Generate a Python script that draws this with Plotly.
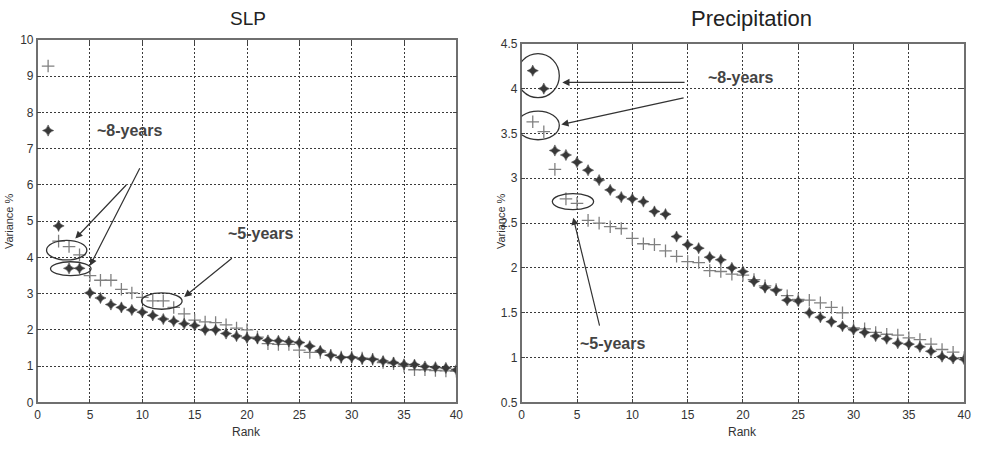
import plotly.graph_objects as go

ranks = list(range(1, 41))

slp_plus = [9.28, 4.45, 4.30, 4.07, 3.50, 3.37, 3.37, 3.12, 3.02, 2.90,
            2.80, 2.80, 2.62, 2.44, 2.27, 2.22, 2.20, 2.14, 2.05, 2.00,
            1.80, 1.62, 1.60, 1.60, 1.44, 1.38, 1.38, 1.30, 1.25, 1.25,
            1.22, 1.19, 1.10, 1.07, 1.00, 0.90, 0.90, 0.88, 0.87, 0.86]
slp_star = [7.50, 4.87, 3.70, 3.70, 3.02, 2.88, 2.70, 2.62, 2.55, 2.49,
            2.40, 2.30, 2.24, 2.17, 2.12, 2.00, 2.00, 1.90, 1.83, 1.78,
            1.76, 1.71, 1.70, 1.68, 1.65, 1.55, 1.42, 1.30, 1.24, 1.24,
            1.20, 1.19, 1.14, 1.10, 1.05, 1.04, 0.99, 0.97, 0.95, 0.90]

pr_plus = [3.63, 3.52, 3.10, 2.77, 2.72, 2.53, 2.50, 2.46, 2.44, 2.33,
           2.27, 2.26, 2.19, 2.13, 2.07, 2.06, 1.97, 1.96, 1.93, 1.92,
           1.87, 1.80, 1.76, 1.69, 1.65, 1.64, 1.61, 1.56, 1.50, 1.33,
           1.32, 1.28, 1.26, 1.25, 1.22, 1.20, 1.15, 1.09, 1.06, 1.00]
pr_star = [4.20, 4.00, 3.31, 3.26, 3.18, 3.09, 2.98, 2.87, 2.79, 2.77,
           2.74, 2.63, 2.60, 2.35, 2.26, 2.22, 2.12, 2.09, 2.00, 1.96,
           1.85, 1.78, 1.75, 1.64, 1.63, 1.50, 1.45, 1.40, 1.35, 1.31,
           1.28, 1.24, 1.21, 1.16, 1.15, 1.12, 1.07, 1.01, 0.99, 0.98]

titles = ["SLP", "Precipitation"]
x_label = "Rank"
y_label = "Variance %"
label_8 = "~8-years"
label_5 = "~5-years"

W, H = 988, 453
FONT = "Liberation Sans, Arial, sans-serif"
PLUS_C = "#808080"
STAR_C = "#383838"
LINE_C = "#333333"

fig = go.Figure()


def add_series(xax, yax, plus, star):
    fig.add_trace(go.Scatter(x=ranks, y=plus, mode="markers", xaxis=xax, yaxis=yax,
                             marker=dict(symbol="cross-thin-open", size=9, color=PLUS_C,
                                         line=dict(color=PLUS_C, width=1.3)),
                             showlegend=False, hoverinfo="skip"))
    fig.add_trace(go.Scatter(x=ranks, y=star, mode="markers", xaxis=xax, yaxis=yax,
                             marker=dict(symbol="star-diamond", size=8, color=STAR_C,
                                         line=dict(color=STAR_C, width=0.5)),
                             showlegend=False, hoverinfo="skip"))


add_series("x", "y", slp_plus, slp_star)
add_series("x2", "y2", pr_plus, pr_star)

axis_common = dict(showline=True, linecolor="#6f6f6f", linewidth=1.5, mirror="ticks",
                   ticks="inside", ticklen=4, tickcolor="#444", showgrid=True,
                   gridcolor="#3a3a3a", gridwidth=1, griddash="2px,2px", zeroline=False,
                   tickfont=dict(family=FONT, size=12, color="#333"))

fig.update_layout(
    width=W, height=H, margin=dict(l=0, r=0, t=0, b=0),
    paper_bgcolor="white", plot_bgcolor="white",
    xaxis=dict(domain=[35 / W, 458 / W], range=[0, 40], dtick=5, anchor="y", **axis_common),
    yaxis=dict(domain=[1 - 408 / H, 1 - 34 / H], range=[0, 10], dtick=1, anchor="x", **axis_common),
    xaxis2=dict(domain=[524 / W, 971 / W], range=[0, 40], dtick=5, anchor="y2", **axis_common),
    yaxis2=dict(domain=[1 - 408 / H, 1 - 38 / H], range=[0.5, 4.5], dtick=0.5, anchor="x2", **axis_common),
)

ann = []
# titles
ann.append(dict(text=titles[0], x=247 / W, y=1 - 12 / H, xref="paper", yref="paper",
                showarrow=False, font=dict(family=FONT, size=19, color="#222"),
                xanchor="center", yanchor="middle"))
ann.append(dict(text=titles[1], x=756 / W, y=1 - 12 / H, xref="paper", yref="paper",
                showarrow=False, font=dict(family=FONT, size=22, color="#222"),
                xanchor="center", yanchor="middle"))
# axis labels
for xc in (246 / W, 747 / W):
    ann.append(dict(text=x_label, x=xc, y=1 - 439 / H, xref="paper", yref="paper",
                    showarrow=False, font=dict(family=FONT, size=12, color="#333"),
                    xanchor="center", yanchor="middle"))
for xc in (6 / W, 503 / W):
    ann.append(dict(text=y_label, x=xc, y=1 - 221 / H, xref="paper", yref="paper",
                    showarrow=False, textangle=-90, font=dict(family=FONT, size=11, color="#333"),
                    xanchor="center", yanchor="middle"))

bold = dict(family=FONT, size=16, color="#444")
# SLP labels
ann.append(dict(text="<b>" + label_8 + "</b>", x=5.5, y=7.5, xref="x", yref="y",
                showarrow=False, font=bold, xanchor="left", yanchor="middle"))
ann.append(dict(text="<b>" + label_5 + "</b>", x=18.0, y=4.65, xref="x", yref="y",
                showarrow=False, font=bold, xanchor="left", yanchor="middle"))
# Precip labels
ann.append(dict(text="<b>" + label_8 + "</b>", x=16.7, y=4.12, xref="x2", yref="y2",
                showarrow=False, font=bold, xanchor="left", yanchor="middle"))
ann.append(dict(text="<b>" + label_5 + "</b>", x=5.1, y=1.16, xref="x2", yref="y2",
                showarrow=False, font=bold, xanchor="left", yanchor="middle"))

arrows = [
    ("x", "y", 9.83, 6.5, 5.0, 3.77),
    ("x", "y", 8.6, 6.04, 3.6, 4.52),
    ("x", "y", 18.7, 4.01, 14.0, 2.91),
    ("x2", "y2", 14.86, 4.07, 3.67, 4.07),
    ("x2", "y2", 14.77, 3.9, 3.58, 3.6),
    ("x2", "y2", 7.07, 1.34, 4.66, 2.56),
]
for xr, yr, tx, ty, hx, hy in arrows:
    ann.append(dict(text="", x=hx, y=hy, ax=tx, ay=ty, xref=xr, yref=yr, axref=xr, ayref=yr,
                    showarrow=True, arrowhead=2, arrowsize=1.2, arrowwidth=1.2,
                    arrowcolor=LINE_C))

fig.update_layout(annotations=ann)

ellipses = [
    ("x", "y", 0.85, 3.93, 4.7, 4.47),
    ("x", "y", 1.23, 3.5, 5.1, 3.88),
    ("x", "y", 9.92, 2.57, 13.8, 3.02),
    ("x2", "y2", -0.45, 3.9, 3.4, 4.39),
    ("x2", "y2", -0.45, 3.43, 3.4, 3.75),
    ("x2", "y2", 2.77, 2.65, 6.5, 2.83),
]
for xr, yr, x0, y0, x1, y1 in ellipses:
    fig.add_shape(type="circle", xref=xr, yref=yr, x0=x0, y0=y0, x1=x1, y1=y1,
                  line=dict(color=LINE_C, width=1.3))

fig.write_html("out.html")
